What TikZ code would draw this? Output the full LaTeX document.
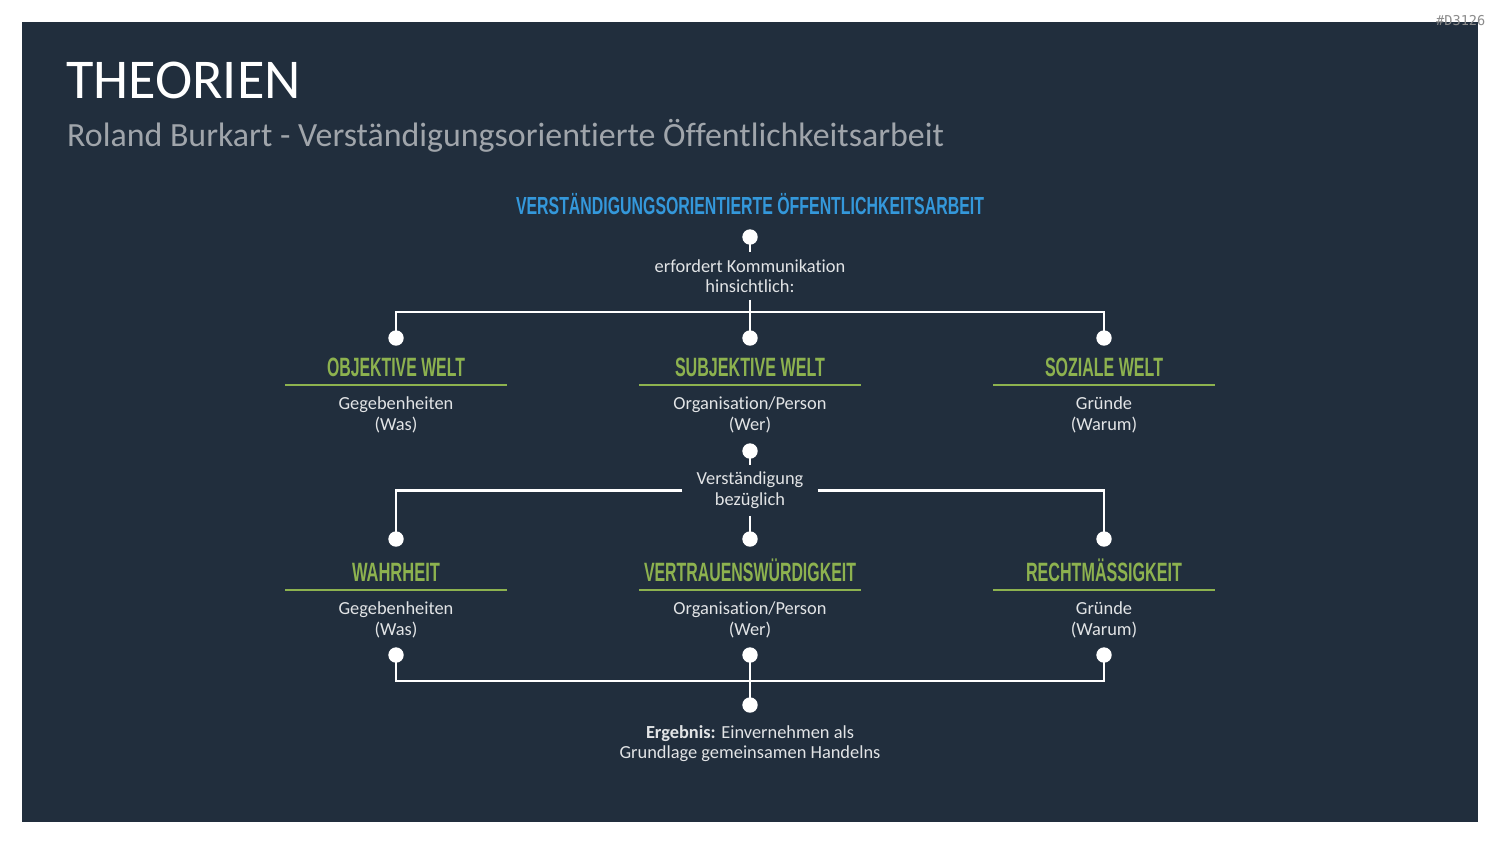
\documentclass[tikz,border=0pt]{standalone}
\usepackage{fontspec}
\setmainfont{Carlito}[Ligatures=NoCommon]
\newfontfamily\hdfont{Liberation Sans}
\newfontfamily\idfont{DejaVu Sans Mono}
\definecolor{bg}{HTML}{212E3D}
\definecolor{hgreen}{HTML}{8DB24F}
\definecolor{hblue}{HTML}{3498DB}
\definecolor{bodytxt}{HTML}{E2E4E6}
\definecolor{subtxt}{HTML}{A0A5AB}
\definecolor{idtxt}{HTML}{8C8C8C}
\newlength\hdw
\newcommand\fitw[2]{\settowidth\hdw{#2}\pgfmathsetmacro\hdsx{#1/\hdw}\scalebox{\hdsx}[1]{#2}}
\tikzset{
  conn/.style={draw=white, line width=2.6pt},
  pin/.style={circle, fill=white, inner sep=0pt, minimum size=15.4pt},
  body/.style={text=bodytxt, font=\fontsize{18.4}{20.5}\selectfont, align=center, inner xsep=0pt, inner ysep=7pt},
  head/.style={text=hgreen, font=\hdfont\bfseries\fontsize{26.5}{26.5}\selectfont, anchor=base, inner sep=0pt},
  uline/.style={draw=hgreen, line width=1.5pt},
}
\begin{document}
\begin{tikzpicture}[x=1pt, y=-1pt]
\useasboundingbox (0,0) rectangle (1500,844);
\fill[white] (0,0) rectangle (1500,844);
\fill[bg] (22,22) rectangle (1478,822);
\node[anchor=base west, inner sep=0pt, text=idtxt, font=\idfont\fontsize{13.6}{14}\selectfont] (id) at (1436,25) {\#D3126};
\node[anchor=base west, inner sep=0pt, text=white, font=\fontsize{56.2}{60}\selectfont] (title) at (66,98) {THEORIEN};
\node[anchor=base west, inner sep=0pt, text=subtxt, font=\fontsize{33.9}{36}\selectfont] (sub) at (67,146.5) {Roland Burkart - Verständigungsorientierte Öffentlichkeitsarbeit};

\node[head, text=hblue, font=\hdfont\bfseries\fontsize{24.7}{24.7}\selectfont] (top) at (750,214) {\fitw{468}{VERSTÄNDIGUNGSORIENTIERTE ÖFFENTLICHKEITSARBEIT}};
\node[pin] (tp) at (750,237) {};
\node[body] (erf) at (750,276) {erfordert Kommunikation\\hinsichtlich:};
\coordinate (j1) at (750,312);
\node[pin] (p1l) at (396,338) {};
\node[pin] (p1m) at (750,338) {};
\node[pin] (p1r) at (1104,338) {};

\node[head] (h1l) at (396,376) {\fitw{138}{OBJEKTIVE WELT}};
\node[head] (h1m) at (750,376) {\fitw{150}{SUBJEKTIVE WELT}};
\node[head] (h1r) at (1104,376) {\fitw{118}{SOZIALE WELT}};
\draw[uline] (h1l.base) ++(-111,9) -- ++(222,0);
\draw[uline] (h1m.base) ++(-111,9) -- ++(222,0);
\draw[uline] (h1r.base) ++(-111,9) -- ++(222,0);
\node[body] (t1l) at (396,415) {Gegebenheiten\\(Was)};
\node[body] (t1m) at (750,415) {Organisation/Person\\(Wer)};
\node[body] (t1r) at (1104,415) {Gründe\\(Warum)};

\node[pin] (q) at (750,451) {};
\node[body, inner xsep=14pt] (vb) at (750,490.4) {Verständigung\\bezüglich};
\node[pin] (p2l) at (396,539) {};
\node[pin] (p2m) at (750,539) {};
\node[pin] (p2r) at (1104,539) {};

\node[head] (h2l) at (396,581) {\fitw{88}{WAHRHEIT}};
\node[head] (h2m) at (750,581) {\fitw{212}{VERTRAUENSWÜRDIGKEIT}};
\node[head] (h2r) at (1104,581) {\fitw{156}{RECHTMÄSSIGKEIT}};
\draw[uline] (h2l.base) ++(-111,9) -- ++(222,0);
\draw[uline] (h2m.base) ++(-111,9) -- ++(222,0);
\draw[uline] (h2r.base) ++(-111,9) -- ++(222,0);
\node[body] (t2l) at (396,620) {Gegebenheiten\\(Was)};
\node[body] (t2m) at (750,620) {Organisation/Person\\(Wer)};
\node[body] (t2r) at (1104,620) {Gründe\\(Warum)};

\node[pin] (p3l) at (396,655) {};
\node[pin] (p3m) at (750,655) {};
\node[pin] (p3r) at (1104,655) {};
\coordinate (j3) at (750,681);
\node[pin] (p4) at (750,705) {};
\node[body] (erg) at (750,743.6) {\textbf{Ergebnis:} Einvernehmen als\\Grundlage gemeinsamen Handelns};

\draw[conn] (tp.center) -- (erf.north);
\draw[conn] (erf.south) -- (p1m.center);
\draw[conn] (p1l.center) |- (j1) -| (p1r.center);
\draw[conn] (q.center) -- (vb.north);
\draw[conn] (vb.south) -- (p2m.center);
\draw[conn] (vb.west) -| (p2l.center);
\draw[conn] (vb.east) -| (p2r.center);
\draw[conn] (p3l.center) |- (j3) -| (p3r.center);
\draw[conn] (p3m.center) -- (p4.center);
\end{tikzpicture}
\end{document}
